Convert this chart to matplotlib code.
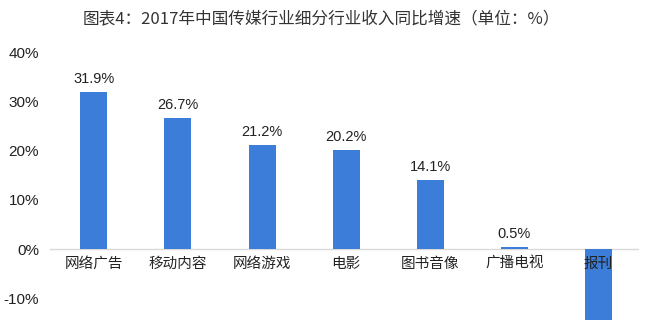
import matplotlib
matplotlib.use("Agg")
import matplotlib.pyplot as plt

plt.rcParams['font.family'] = ['Liberation Sans', 'Noto Sans CJK SC', 'DejaVu Sans']

categories = ["网络广告", "移动内容", "网络游戏", "电影", "图书音像", "广播电视", "报刊"]
values = [31.9, 26.7, 21.2, 20.2, 14.1, 0.5, -15.0]
value_labels = ["31.9%", "26.7%", "21.2%", "20.2%", "14.1%", "0.5%", ""]
yticks = [-10, 0, 10, 20, 30, 40]

fig = plt.figure(figsize=(6.45, 3.2), dpi=100)
ax = fig.add_axes([50/645, 0.0, 589/645, 268/320])

x = range(len(categories))
ax.bar(x, values, width=0.32, color="#3b7dd8", zorder=2)
ax.axhline(0, color="#d9d9d9", lw=1, zorder=1)

for i, (v, lab) in enumerate(zip(values, value_labels)):
    if lab:
        ax.text(i, v + 1.2, lab, ha="center", va="bottom", fontsize=10.5, color="#222222")
    ax.text(i, -1.6, categories[i], ha="center", va="top", fontsize=10.5,
            color="#222222", family=['Noto Sans CJK SC', 'DejaVu Sans'], zorder=3)

ax.set_xlim(-0.52, 6.48)
ax.set_ylim(-14.4, 40)
ax.set_yticks(yticks)
ax.set_yticklabels([f"{t}%" for t in yticks], fontsize=11, color="#222222")
ax.set_xticks([])
ax.tick_params(axis="y", length=0, pad=8)
for s in ax.spines.values():
    s.set_visible(False)

fig.text(321/645, 1 - 20/320, "图表4：2017年中国传媒行业细分行业收入同比增速（单位：%）",
         ha="center", va="center", fontsize=12, color="#333333",
         family=['Noto Sans CJK SC', 'DejaVu Sans'])

fig.savefig("out.png", dpi=100)
